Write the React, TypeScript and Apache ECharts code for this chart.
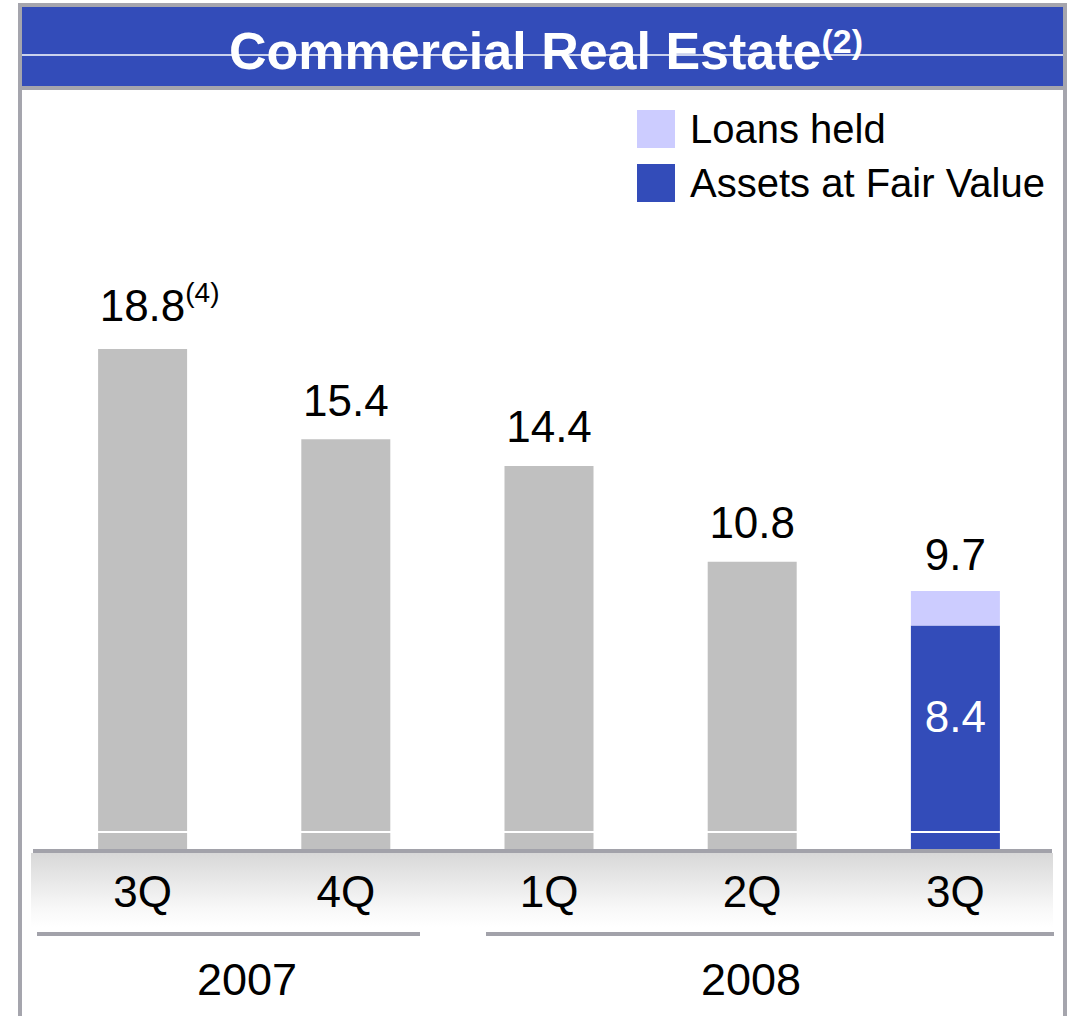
import React, { useEffect, useRef } from "react";
import * as echarts from "echarts";

const categories = ["3Q", "4Q", "1Q", "2Q", "3Q"];
const totalValues: (number | null)[] = [18.8, 15.4, 14.4, 10.8, null];
const assetsFairValue: (number | null)[] = [null, null, null, null, 8.4];
const loansHeld: (number | null)[] = [null, null, null, null, 1.3];
const valueNotes = ["(4)", "", "", "", ""];
const years = ["2007", "2008"];
const titleText = "Commercial Real Estate";
const titleNote = "(2)";

const FONT = "'Liberation Sans', Arial, sans-serif";

export default function App() {
  const ref = useRef<HTMLDivElement>(null);
  useEffect(() => {
    if (!ref.current) return;
    const chart = echarts.init(ref.current, null, { renderer: "svg" });
    const frameGray = "#a5a5ad";
    chart.setOption({
      animation: false,
      textStyle: { fontFamily: FONT },
      title: {
        text: `{t|${titleText}}{s|${titleNote}}`,
        left: 224,
        top: 19,
        z: 20,
        textStyle: {
          rich: {
            t: { fontSize: 52, fontWeight: "bold", color: "#fff", fontFamily: FONT, lineHeight: 54 },
            s: { fontSize: 34, fontWeight: "bold", color: "#fff", fontFamily: FONT, lineHeight: 34, verticalAlign: "top" },
          },
        },
      },
      legend: {
        orient: "vertical",
        left: 632,
        top: 104,
        itemWidth: 38,
        itemHeight: 38,
        itemGap: 14,
        icon: "rect",
        data: ["Loans held", "Assets at Fair Value"],
        textStyle: { fontSize: 40, color: "#000", fontFamily: FONT, padding: [0, 0, 0, 10], lineHeight: 38 },
      },
      grid: { left: 41, right: 10, top: 317, bottom: 167 },
      xAxis: {
        type: "category",
        data: categories,
        axisLine: { show: false },
        axisTick: { show: false },
        axisLabel: { fontSize: 44, color: "#000", margin: 20, fontFamily: FONT },
      },
      yAxis: { type: "value", min: 0, max: 20, show: false, splitLine: { show: false } },
      series: [
        {
          name: "Total",
          type: "bar",
          stack: "a",
          barWidth: 89,
          data: totalValues,
          itemStyle: { color: "#c0c0c0" },
          label: {
            show: true,
            position: "top",
            distance: 16,
            formatter: (p: any) =>
              valueNotes[p.dataIndex]
                ? `{p|}{w|${p.value}}{s|${valueNotes[p.dataIndex]}}`
                : `{v|${p.value}}`,
            rich: {
              v: { fontSize: 44, color: "#000", fontFamily: FONT, lineHeight: 46 },
              w: { fontSize: 44, color: "#000", fontFamily: FONT, lineHeight: 54 },
              p: { width: 34, lineHeight: 10 },
              s: { fontSize: 28, color: "#000", fontFamily: FONT, lineHeight: 28, verticalAlign: "top" },
            },
          },
        },
        {
          name: "Assets at Fair Value",
          type: "bar",
          stack: "a",
          barWidth: 89,
          data: assetsFairValue,
          itemStyle: { color: "#334cb9" },
          label: {
            show: true,
            position: "inside",
            offset: [0, -21],
            fontSize: 44,
            color: "#fff",
            fontFamily: FONT,
          },
        },
        {
          name: "Loans held",
          type: "bar",
          stack: "a",
          barWidth: 89,
          data: loansHeld,
          itemStyle: { color: "#ccccff" },
          label: {
            show: true,
            position: "top",
            distance: 14,
            fontSize: 44,
            color: "#000",
            fontFamily: FONT,
            formatter: (p: any) => {
              const a = assetsFairValue[p.dataIndex] || 0;
              return (a + (p.value as number)).toFixed(1);
            },
          },
        },
      ],
      graphic: [
        { type: "rect", shape: { x: 18, y: 3, width: 4, height: 1013 }, style: { fill: frameGray }, z: 1 },
        { type: "rect", shape: { x: 1063, y: 3, width: 4, height: 1013 }, style: { fill: frameGray }, z: 1 },
        { type: "rect", shape: { x: 18, y: 3, width: 1049, height: 4 }, style: { fill: frameGray }, z: 1 },
        { type: "rect", shape: { x: 22, y: 7, width: 1041, height: 79 }, style: { fill: "#334cb9" }, z: 1 },
        { type: "rect", shape: { x: 18, y: 86, width: 1049, height: 4 }, style: { fill: frameGray }, z: 1 },
        { type: "line", shape: { x1: 22, y1: 55, x2: 1063, y2: 55 }, style: { stroke: "#ffffff", lineWidth: 1.5 }, z: 2 },
        {
          type: "rect",
          shape: { x: 31, y: 853, width: 1022, height: 74 },
          style: {
            fill: new echarts.graphic.LinearGradient(0, 0, 0, 1, [
              { offset: 0, color: "#d8d8d8" },
              { offset: 0.75, color: "#f8f8f8" },
              { offset: 1, color: "#ffffff" },
            ]),
          },
          z: 0,
        },
        { type: "rect", shape: { x: 33, y: 849, width: 1019, height: 4 }, style: { fill: "#a2a2aa" }, z: 50 },
        { type: "line", shape: { x1: 30, y1: 832, x2: 1055, y2: 832 }, style: { stroke: "#ffffff", lineWidth: 2 }, z: 50 },
        { type: "rect", shape: { x: 37, y: 932, width: 383, height: 4 }, style: { fill: "#a2a2aa" }, z: 50 },
        { type: "rect", shape: { x: 486, y: 932, width: 568, height: 4 }, style: { fill: "#a2a2aa" }, z: 50 },
        {
          type: "text",
          x: 247,
          y: 979,
          z: 50,
          style: { text: years[0], fontSize: 45, fill: "#000", fontFamily: FONT, align: "center", verticalAlign: "middle" },
        },
        {
          type: "text",
          x: 751,
          y: 979,
          z: 50,
          style: { text: years[1], fontSize: 45, fill: "#000", fontFamily: FONT, align: "center", verticalAlign: "middle" },
        },
      ],
    });
    return () => chart.dispose();
  }, []);
  return (
    <div
      ref={ref}
      style={{ position: "absolute", left: 0, top: 0, width: 1067, height: 1016, background: "#fff" }}
    />
  );
}
